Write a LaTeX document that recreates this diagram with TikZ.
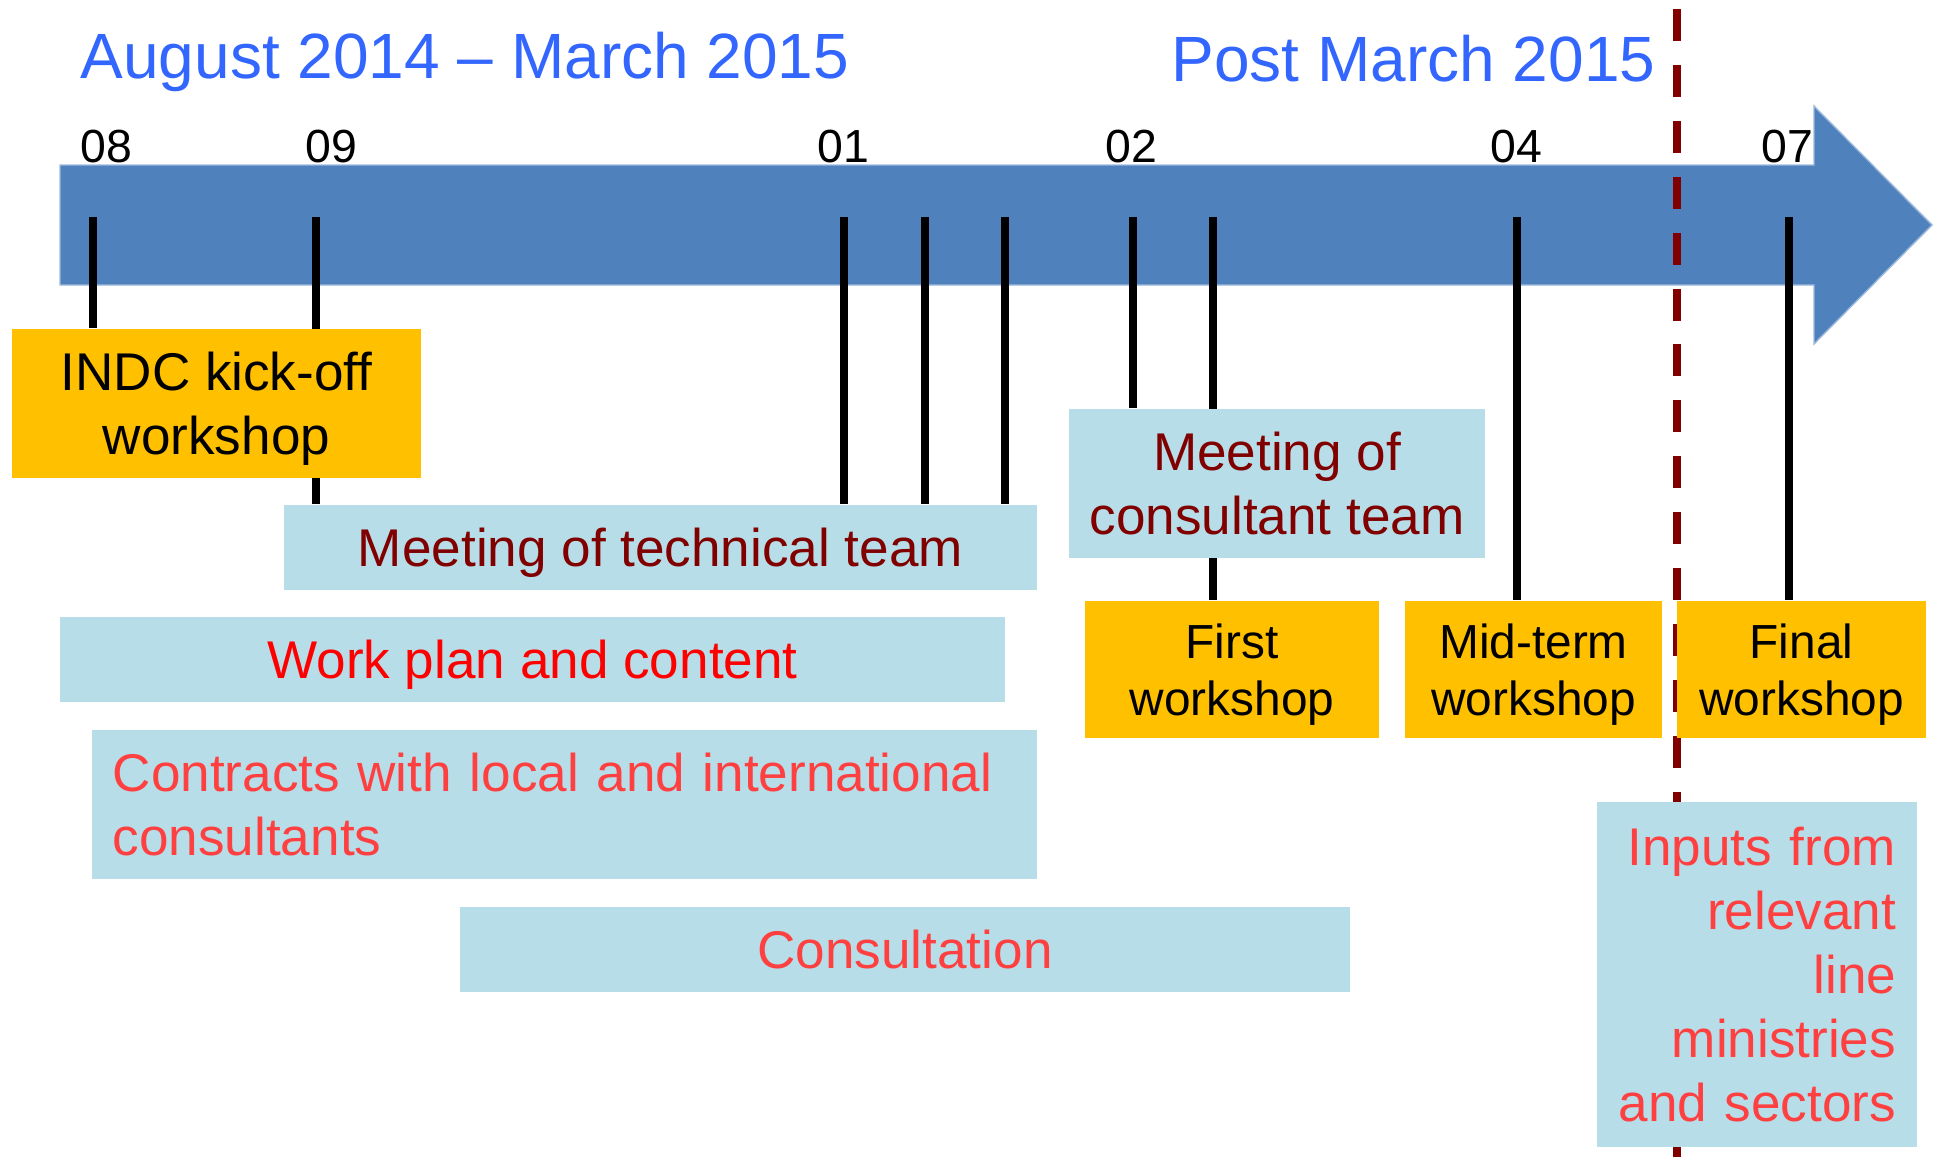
\documentclass[tikz,border=0pt]{standalone}
\usepackage{fontspec}
\setmainfont{Liberation Sans}
\usepackage{tikz}
\usetikzlibrary{positioning}
\pgfdeclarelayer{back}
\pgfsetlayers{back,main}

\definecolor{titleblue}{RGB}{51,102,255}
\definecolor{barblue}{RGB}{79,129,189}
\definecolor{boxorange}{RGB}{255,192,0}
\definecolor{boxaqua}{RGB}{183,221,232}
\definecolor{darkred}{RGB}{128,0,0}
\definecolor{lightred}{RGB}{255,64,64}

\begin{document}
\begin{tikzpicture}[x=0.01cm,y=-0.01cm,
  title/.style={text=titleblue,font=\fontsize{18.2}{21.8}\selectfont,inner sep=0pt},
  month/.style={font=\fontsize{13.2}{16}\selectfont,inner sep=0pt,anchor=base west},
  box/.style={rectangle,inner sep=0pt,align=center,
    font=\fontsize{15.1}{18.2}\selectfont},
  flat/.style={text depth=0pt},
  workshop/.style={box,flat,fill=boxorange},
  small/.style={font=\fontsize{13.6}{16.3}\selectfont},
  activity/.style={box,fill=boxaqua},
  tick/.style={line width=2.45pt},
  divider/.style={darkred,line width=2.3pt,dash pattern=on 9.1pt off 6.8pt}]

  \useasboundingbox (0,0) rectangle (1936,1157);

  % period headings
  \node[title,anchor=base west] (span) at (80,78) {August 2014 – March 2015};
  \node[title,anchor=base east] (post) at (1656,81) {Post March 2015};

  % months
  \node[month] (m08) at (80,162) {08};
  \node[month] (m09) at (305,162) {09};
  \node[month] (m01) at (817,162) {01};
  \node[month] (m02) at (1105,162) {02};
  \node[month] (m04) at (1490,162) {04};
  \node[month] (m07) at (1761,162) {07};

  % workshops
  \node[workshop,minimum width=4.09cm,minimum height=1.49cm]
    (kick) at (216.5,403.5) {INDC kick-off\\workshop};
  \node[workshop,small,minimum width=2.94cm,minimum height=1.37cm]
    (first) at (1232,669.5) {First\\workshop};
  \node[workshop,small,minimum width=2.57cm,minimum height=1.37cm]
    (mid) at (1533.5,669.5) {Mid-term\\workshop};
  \node[workshop,small,minimum width=2.49cm,minimum height=1.37cm]
    (final) at (1801.5,669.5) {Final\\workshop};

  % activities
  \node[activity,flat,text=darkred,minimum width=7.53cm,minimum height=0.85cm]
    (tech) at (660.5,547.5) {Meeting of technical team};
  \node[activity,text=darkred,minimum width=4.16cm,minimum height=1.49cm]
    (cteam) at (1277,483.5) {Meeting of\\consultant team};
  \node[activity,flat,text=red,minimum width=9.45cm,minimum height=0.85cm]
    (plan) at (532.5,659.5) {Work plan and content};
  \node[activity,text=lightred,align=left,inner xsep=0.21cm,text width=9.03cm,
    minimum height=1.49cm]
    (contracts) at (564.5,804.5) {Contracts with local and international\\consultants};
  \node[activity,text=lightred,minimum width=8.9cm,minimum height=0.85cm]
    (consult) at (905,949.5) {Consultation};
  \node[activity,text=lightred,align=right,inner xsep=0.21cm,text width=2.78cm,
    minimum height=3.45cm]
    (inputs) at (1757,974.5) {Inputs from\\relevant\\line\\ministries\\and sectors};

  % tick points on the bar
  \coordinate (k08) at (93,217);
  \coordinate (k09) at (316,217);
  \coordinate (k01) at (844,217);
  \coordinate (k01b) at (925,217);
  \coordinate (k01c) at (1005,217);
  \coordinate (k02) at (1133,217);
  \coordinate (k02b) at (1213,217);
  \coordinate (k04) at (1517,217);
  \coordinate (k07) at (1789,217);
  \coordinate (cut top) at (1677,9);
  \coordinate (cut end) at (1677,1157);

  \begin{pgfonlayer}{back}
    \filldraw[fill=barblue,draw=barblue!55!white,line width=0.4pt]
      (60,165) -- (1814,165) -- (1814,106) -- (1932,225)
      -- (1814,344) -- (1814,285) -- (60,285) -- cycle;
    \draw[tick] (k08) -- (k08 |- kick.north);
    \draw[tick] (k09) -- (k09 |- tech.north);
    \draw[tick] (k01) -- (k01 |- tech.north);
    \draw[tick] (k01b) -- (k01b |- tech.north);
    \draw[tick] (k01c) -- (k01c |- tech.north);
    \draw[tick] (k02) -- (k02 |- cteam.north);
    \draw[tick] (k02b) -- (k02b |- first.north);
    \draw[tick] (k04) -- (k04 |- mid.north);
    \draw[tick] (k07) -- (k07 |- final.north);
    \draw[divider] (cut top) -- (cut end);
  \end{pgfonlayer}

\end{tikzpicture}
\end{document}
